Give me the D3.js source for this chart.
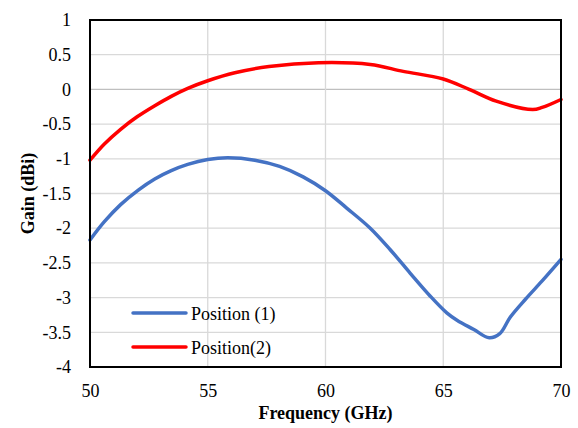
<!DOCTYPE html>
<html>
<head>
<meta charset="utf-8">
<script src="https://cdn.jsdelivr.net/npm/d3@7"></script>
<style>
  body { margin: 0; background: #fff; }
  svg { display: block; }
  svg text { font-family: "Liberation Serif", "Times New Roman", serif; fill: #000; }
</style>
</head>
<body>
<div id="chart"></div>
<script>
// values
const freq1 = [50, 50.6, 51.3, 52.05, 52.75, 53.45, 54.15, 55, 55.85, 57, 58.05, 59.05, 60, 60.9, 61.9, 62.75, 63.6, 64.45, 65.15, 65.6, 66.3, 66.95, 67.4, 67.85, 68.5, 69.2, 70];
const gain1 = [-2.17, -1.91, -1.66, -1.45, -1.29, -1.17, -1.08, -1.01, -0.985, -1.02, -1.11, -1.26, -1.46, -1.71, -2.00, -2.31, -2.65, -2.98, -3.22, -3.33, -3.46, -3.58, -3.52, -3.28, -3.02, -2.76, -2.45];

const freq2 = [50, 50.6, 51.3, 52.0, 52.75, 53.45, 54.15, 55.0, 56.15, 57.6, 59.7, 61.9, 63.3, 65.0, 66.1, 67.25, 68.8, 69.2, 70];
const gain2 = [-1.02, -0.79, -0.575, -0.395, -0.235, -0.10, 0.015, 0.125, 0.24, 0.33, 0.385, 0.36, 0.26, 0.15, 0.0, -0.17, -0.29, -0.26, -0.145];

const seriesNames = ["Position (1)", "Position(2)"];
const seriesColors = ["#4472c4", "#ff0000"];

const xTicks = [50, 55, 60, 65, 70];
const yTicks = [1, 0.5, 0, -0.5, -1, -1.5, -2, -2.5, -3, -3.5, -4];

const width = 578, height = 428;
const plotL = 90, plotR = 561, plotT = 20, plotB = 367;

const svg = d3.select("#chart").append("svg")
    .attr("width", width)
    .attr("height", height);

const x = d3.scaleLinear().domain([50, 70]).range([plotL, plotR]);
const y = d3.scaleLinear().domain([-4, 1]).range([plotB, plotT]);

// gridlines
svg.append("g")
    .selectAll("line")
    .data(yTicks)
    .join("line")
    .attr("x1", plotL).attr("x2", plotR)
    .attr("y1", d => y(d)).attr("y2", d => y(d))
    .attr("stroke", d => d === 0 ? "#bfbfbf" : "#d9d9d9")
    .attr("stroke-width", 1.3);

svg.append("g")
    .selectAll("line")
    .data(xTicks)
    .join("line")
    .attr("x1", d => x(d)).attr("x2", d => x(d))
    .attr("y1", plotT).attr("y2", plotB)
    .attr("stroke", "#d9d9d9")
    .attr("stroke-width", 1.3);

// tick labels via axes
const yAxis = svg.append("g")
    .attr("transform", "translate(" + plotL + ",0)")
    .call(d3.axisLeft(y).tickValues(yTicks).tickSize(0).tickPadding(19).tickFormat(d => String(d)));
const xAxis = svg.append("g")
    .attr("transform", "translate(0," + plotB + ")")
    .call(d3.axisBottom(x).tickValues(xTicks).tickSize(0).tickPadding(17));
[xAxis, yAxis].forEach(a => {
    a.attr("font-family", null).attr("font-size", 18);
    a.select(".domain").remove();
});

// series
const line = d3.line()
    .x(d => x(d[0]))
    .y(d => y(d[1]))
    .curve(d3.curveCatmullRom.alpha(0.5));

const series = [
    d3.zip(freq1, gain1),
    d3.zip(freq2, gain2)
];

svg.append("g")
    .selectAll("path")
    .data(series)
    .join("path")
    .attr("d", line)
    .attr("fill", "none")
    .attr("stroke", (d, i) => seriesColors[i])
    .attr("stroke-width", 3.5)
    .attr("stroke-linecap", "round")
    .attr("stroke-linejoin", "round");

// frame
svg.append("rect")
    .attr("x", plotL).attr("y", plotT)
    .attr("width", plotR - plotL).attr("height", plotB - plotT)
    .attr("fill", "none")
    .attr("stroke", "#000")
    .attr("stroke-width", 2);

// legend
const legend = svg.append("g")
    .selectAll("g")
    .data(seriesNames)
    .join("g")
    .attr("transform", (d, i) => "translate(133," + (313 + i * 34) + ")");
legend.append("line")
    .attr("x1", 0).attr("x2", 53)
    .attr("stroke", (d, i) => seriesColors[i])
    .attr("stroke-width", 3.5)
    .attr("stroke-linecap", "round");
legend.append("text")
    .attr("x", 58)
    .attr("y", 6.5)
    .attr("font-size", 18)
    .text(d => d);

// axis titles
svg.append("text")
    .attr("x", (plotL + plotR) / 2)
    .attr("y", 419)
    .attr("text-anchor", "middle")
    .attr("font-size", 18)
    .attr("font-weight", "bold")
    .text("Frequency (GHz)");

svg.append("text")
    .attr("transform", "translate(34," + ((plotT + plotB) / 2) + ") rotate(-90)")
    .attr("text-anchor", "middle")
    .attr("font-size", 18)
    .attr("font-weight", "bold")
    .text("Gain (dBi)");
</script>
</body>
</html>
